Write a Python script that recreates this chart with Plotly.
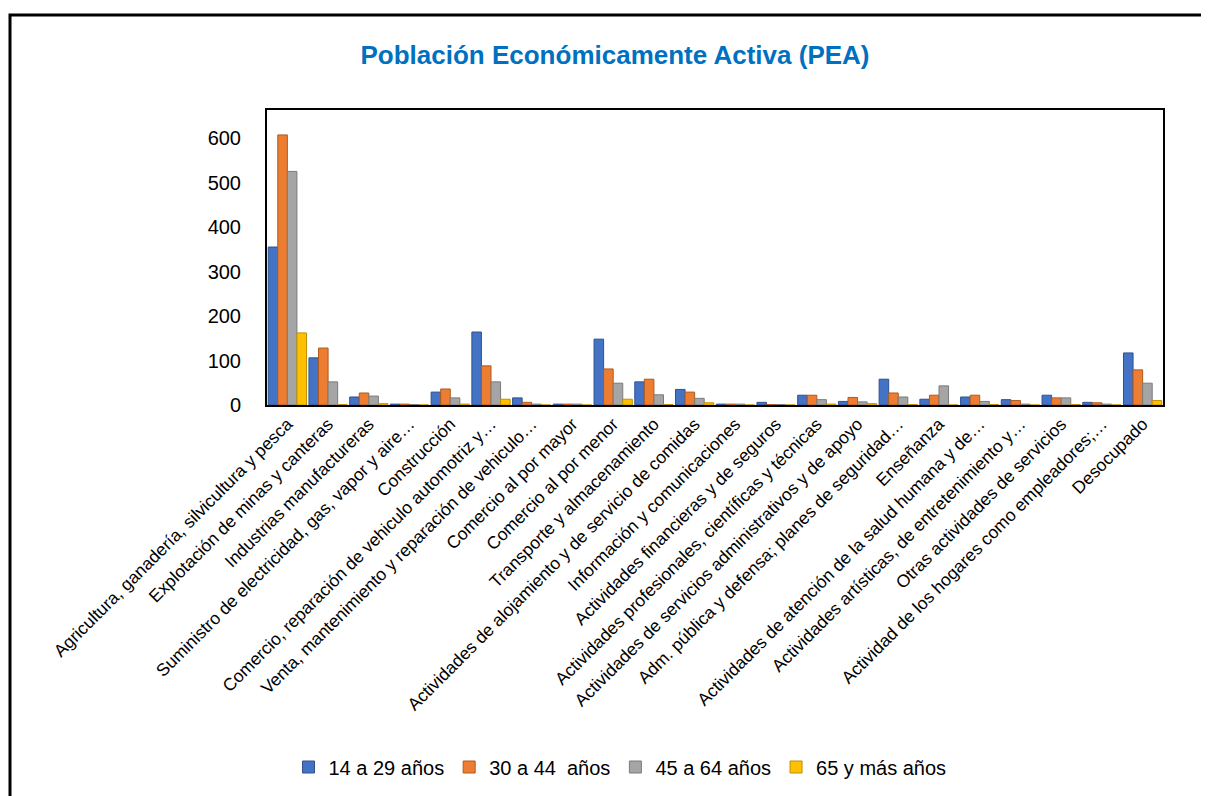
import plotly.graph_objects as go

categories = [
    "Agricultura, ganadería, silvicultura y pesca",
    "Explotación de minas y canteras",
    "Industrias manufactureras",
    "Suministro de electricidad, gas, vapor y aire…",
    "Construcción",
    "Comercio, reparación de vehiculo automotriz y…",
    "Venta, mantenimiento y reparación de vehiculo…",
    "Comercio al por mayor",
    "Comercio al por menor",
    "Transporte y almacenamiento",
    "Actividades de alojamiento y de servicio de comidas",
    "Información y comunicaciones",
    "Actividades financieras y de seguros",
    "Actividades profesionales, científicas y técnicas",
    "Actividades de servicios administrativos y de apoyo",
    "Adm. pública y defensa; planes de seguridad…",
    "Enseñanza",
    "Actividades de atención de la salud humana y de…",
    "Actividades artísticas, de entretenimiento y…",
    "Otras actividades de servicios",
    "Actividad de los hogares como empleadores;…",
    "Desocupado",
]

s14_29 = [355, 106, 18, 2, 29, 164, 16, 2, 148, 52, 35, 2, 6, 22, 8, 58, 13, 18, 12, 22, 6, 117]
s30_44 = [607, 128, 27, 2, 36, 88, 6, 2, 81, 58, 29, 2, 1, 22, 17, 27, 22, 22, 10, 16, 5, 79]
s45_64 = [525, 52, 20, 1, 16, 52, 2, 2, 49, 23, 15, 2, 1, 12, 7, 18, 43, 8, 2, 16, 2, 49]
s65 = [162, 1, 3, 0, 2, 13, 0, 0, 13, 1, 5, 0, 0, 2, 3, 1, 0, 1, 0, 1, 0, 10]

series_names = ["14 a 29 años", "30 a 44  años", "45 a 64 años", "65 y más años"]
series_values = [s14_29, s30_44, s45_64, s65]
colors = ["#4472C4", "#ED7D31", "#A5A5A5", "#FFC000"]
edge = ["#2F528F", "#AE5A21", "#7B7B7B", "#BF9000"]

FONT = "Liberation Sans, Arial, sans-serif"

# page shows the figure offset by 8px (body margin); compensate
OFF = 8
PL, PR, PT, PB = 267 - OFF, 1163 - OFF, 110 - OFF, 405 - OFF
W, H = 1209, 796
PW, PH = PR - PL, PB - PT

fig = go.Figure()
for name, vals, c, e in zip(series_names, series_values, colors, edge):
    fig.add_trace(go.Bar(
        x=categories, y=vals, name=name,
        marker=dict(color=c, line=dict(color=e, width=1)),
    ))

fig.update_layout(
    width=W, height=H,
    paper_bgcolor="white", plot_bgcolor="white",
    barmode="group", bargap=0.06, bargroupgap=0.0,
    margin=dict(l=PL, r=W - PR, t=PT, b=H - PB),
    font=dict(family=FONT, color="black"),
    title=dict(
        text="<b>Población Económicamente Activa (PEA)</b>",
        x=(615 - OFF) / W, xref="container", xanchor="center",
        y=1 - (55 - OFF) / H, yref="container", yanchor="middle",
        font=dict(size=26, color="#0070C0", family=FONT),
    ),
    legend=dict(
        orientation="h", x=(620 - OFF) / W, xanchor="center", xref="container",
        y=1 - (767 - OFF) / H, yanchor="middle", yref="container",
        font=dict(size=20, family=FONT, color="black"),
        traceorder="normal",
    ),
    showlegend=True,
)

fig.update_xaxes(
    tickangle=-45, tickfont=dict(size=17.5, family=FONT, color="black"),
    showline=True, linecolor="black", linewidth=2, mirror=True,
    showgrid=False, ticks="", automargin=False,
)
fig.update_yaxes(
    range=[0, 663], tickvals=[0, 100, 200, 300, 400, 500, 600],
    tickfont=dict(size=20, family=FONT, color="black"),
    showline=True, linecolor="black", linewidth=2, mirror=True,
    showgrid=False, zeroline=False, ticks="", ticklabelstandoff=20,
    automargin=False,
)

# outer chart border (left & top visible; right/bottom run off the image)
fig.add_shape(
    type="rect", xref="paper", yref="paper",
    x0=(10 - OFF - PL) / PW, x1=(1230 - PL) / PW,
    y0=(PB - 820) / PH, y1=(PB - (15 - OFF)) / PH,
    line=dict(color="black", width=3), fillcolor="rgba(0,0,0,0)", layer="above",
)

fig.write_html("out.html")
